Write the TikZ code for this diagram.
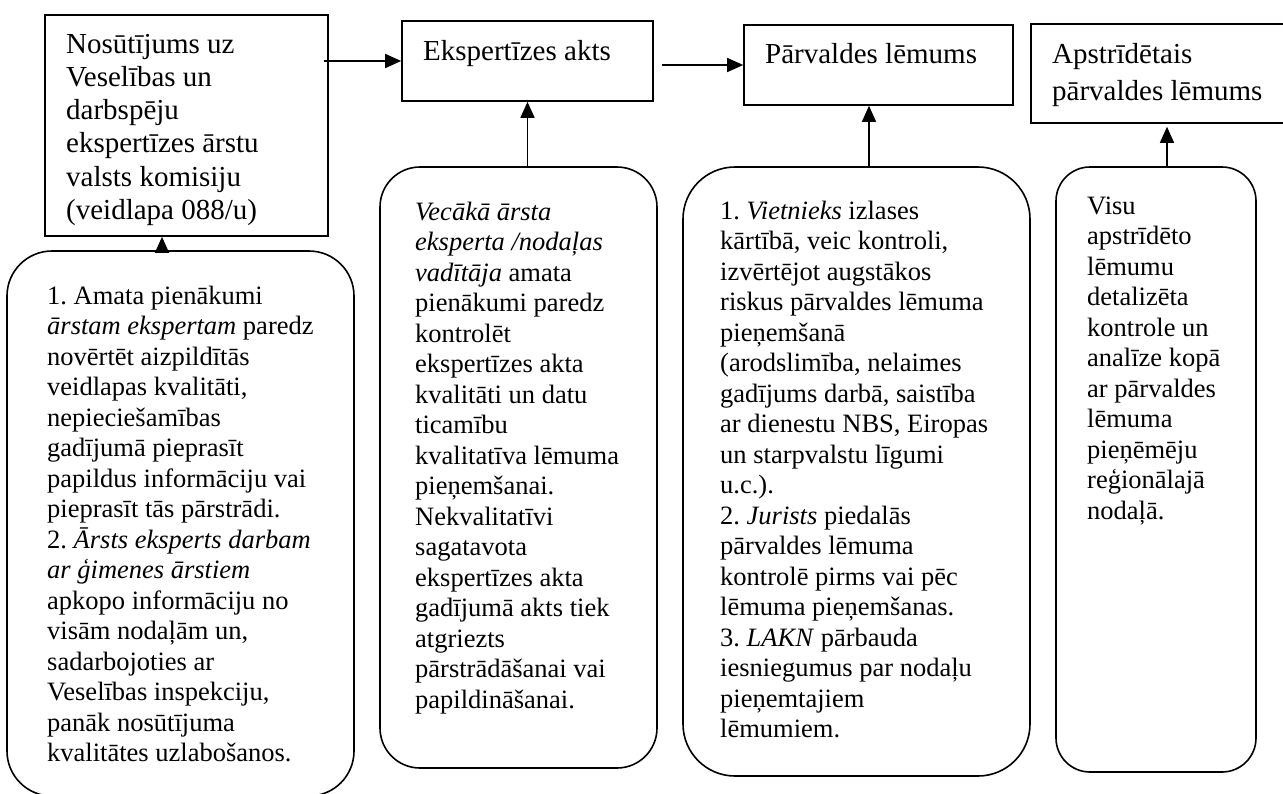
\documentclass[tikz,border=0pt]{standalone}
\usepackage{fontspec}
\setmainfont{Liberation Serif}
\usetikzlibrary{arrows.meta}
\frenchspacing
\newcommand{\hfont}{\fontsize{29}{33.3}\selectfont}
\newcommand{\bfont}{\fontsize{26.5}{30.5}\selectfont}
\begin{document}
\begin{tikzpicture}[x=1pt,y=-1pt,
  sqbox/.style={draw, line width=1.6pt, rectangle, inner sep=0pt},
  rbox/.style={draw, line width=1.6pt, rectangle, inner sep=0pt},
  txt/.style={anchor=base west, inner sep=0pt},
  arr/.style={line width=1.5pt, -{Triangle[length=16pt,width=14pt]}}]
\useasboundingbox (0,0) rectangle (1283,793);
\clip (0,0) rectangle (1283,793);
% top boxes
\node[sqbox, minimum width=283pt, minimum height=221pt] (b1) at (186.5,125.5) {};
\node[sqbox, minimum width=251pt, minimum height=80pt] (b2) at (527.5,61) {};
\node[sqbox, minimum width=269pt, minimum height=80pt] (b3) at (878.5,65) {};
\node[sqbox, minimum width=259pt, minimum height=99pt] (b4) at (1160.5,73.5) {};
% rounded boxes
\node[rbox, rounded corners=45pt, minimum width=347pt, minimum height=545pt] (r1) at (180.5,523.5) {};
\node[rbox, rounded corners=40pt, minimum width=277pt, minimum height=601pt] (r2) at (518.5,467.5) {};
\node[rbox, rounded corners=52pt, minimum width=347pt, minimum height=609pt] (r3) at (856.5,471.5) {};
\node[rbox, rounded corners=34pt, minimum width=200pt, minimum height=605pt] (r4) at (1156,469.5) {};
% header texts
\node[txt] (t1) at (66,53) {\begin{minipage}[t]{260pt}\hfont\raggedright
Nosūtījums uz\\
Veselības un\\
darbspēju\\
ekspertīzes ārstu\\
valsts komisiju\\
(veidlapa 088/u)\end{minipage}};
\node[txt] (t2) at (423,60) {\hfont Ekspertīzes akts};
\node[txt] (t3) at (765,63) {\hfont Pārvaldes lēmums};
\node[txt] (t4) at (1052,63) {\begin{minipage}[t]{230pt}\fontsize{29}{37.3}\selectfont\raggedright
Apstrīdētais\\
pārvaldes lēmums\end{minipage}};
% body texts
\node[txt] (u1) at (47,304) {\begin{minipage}[t]{300pt}\bfont\raggedright
1. Amata pienākumi\\
\textit{ārstam ekspertam} paredz\\
novērtēt aizpildītās\\
veidlapas kvalitāti,\\
nepieciešamības\\
gadījumā pieprasīt\\
papildus informāciju vai\\
pieprasīt tās pārstrādi.\\
2. \textit{Ārsts eksperts darbam}\\
\textit{ar ģimenes ārstiem}\\
apkopo informāciju no\\
visām nodaļām un,\\
sadarbojoties ar\\
Veselības inspekciju,\\
panāk nosūtījuma\\
kvalitātes uzlabošanos.\end{minipage}};
\node[txt] (u2) at (415,220) {\begin{minipage}[t]{240pt}\bfont\raggedright
\textit{Vecākā ārsta}\\
\textit{eksperta /nodaļas}\\
\textit{vadītāja} amata\\
pienākumi paredz\\
kontrolēt\\
ekspertīzes akta\\
kvalitāti un datu\\
ticamību\\
kvalitatīva lēmuma\\
pieņemšanai.\\
Nekvalitatīvi\\
sagatavota\\
ekspertīzes akta\\
gadījumā akts tiek\\
atgriezts\\
pārstrādāšanai vai\\
papildināšanai.\end{minipage}};
\node[txt] (u3) at (720,219) {\begin{minipage}[t]{300pt}\bfont\raggedright
1. \textit{Vietnieks} izlases\\
kārtībā, veic kontroli,\\
izvērtējot augstākos\\
riskus pārvaldes lēmuma\\
pieņemšanā\\
(arodslimība, nelaimes\\
gadījums darbā, saistība\\
ar dienestu NBS, Eiropas\\
un starpvalstu līgumi\\
u.c.).\\
2. \textit{Jurists} piedalās\\
pārvaldes lēmuma\\
kontrolē pirms vai pēc\\
lēmuma pieņemšanas.\\
3. \textit{LAKN} pārbauda\\
iesniegumus par nodaļu\\
pieņemtajiem\\
lēmumiem.\end{minipage}};
\node[txt] (u4) at (1087,214) {\begin{minipage}[t]{160pt}\bfont\raggedright
Visu\\
apstrīdēto\\
lēmumu\\
detalizēta\\
kontrole un\\
analīze kopā\\
ar pārvaldes\\
lēmuma\\
pieņēmēju\\
reģionālajā\\
nodaļā.\end{minipage}};
% connectors
\draw[arr] ([xshift=-5pt]b1.east |- b2.west) -- (b2.west);
\draw[arr] ([xshift=8pt]b2.east |- b3.west) -- (b3.west);
\draw[arr] ([xshift=-24.5pt]b1.south |- r1.north) -- ([xshift=-24.5pt]b1.south);
\draw[arr] (b2.south |- r2.north) -- (b2.south);
\draw[arr] ([xshift=-9.5pt]b3.south |- r3.north) -- ([xshift=-9.5pt]b3.south);
\draw[arr] ([xshift=6.5pt]b4.south |- r4.north) -- ([xshift=6.5pt,yshift=-3pt]b4.south);
\end{tikzpicture}
\end{document}
